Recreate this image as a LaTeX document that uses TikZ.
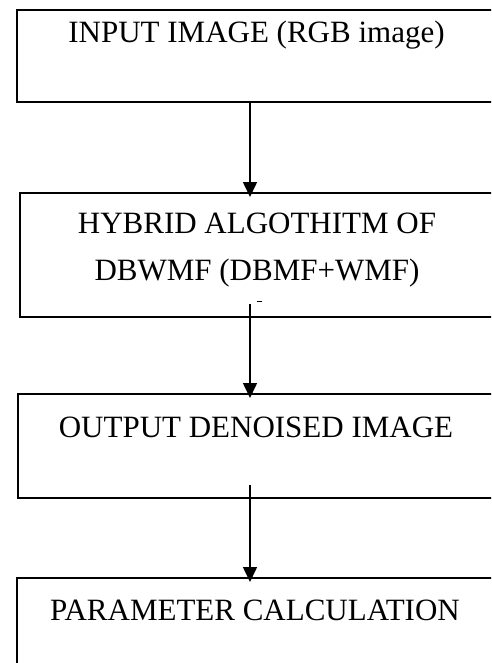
\documentclass[tikz,border=0pt]{standalone}
\usepackage{fontspec}
\setmainfont{Liberation Serif}
\usetikzlibrary{arrows.meta}

\begin{document}
\begin{tikzpicture}[x=1pt,y=-1pt,
  box/.style={draw, line width=1.6pt, rectangle, inner sep=0pt, anchor=north west},
  label/.style={font=\fontsize{31}{47}\selectfont, inner sep=0pt, anchor=base},
  flow/.style={line width=1.6pt, -{Triangle[length=15pt,width=14pt]}}
]
\useasboundingbox (0,0) rectangle (491,663);
\clip (0,0) rectangle (491,663);

% process boxes (they run past the right edge of the page)
\node[box, minimum width=524pt, minimum height=92pt]  (b1) at (16,9)   {};
\node[box, minimum width=521pt, minimum height=124pt] (b2) at (19,192) {};
\node[box, minimum width=523pt, minimum height=104pt] (b3) at (17,393) {};
\node[box, minimum width=524pt, minimum height=123pt] (b4) at (16,577) {};

% box captions
\node[label] (t1)  at (256.5,43) {INPUT IMAGE (RGB image)};
\node[label] (t2a) at (257,233)  {HYBRID ALGOTHITM OF};
\node[label] (t2b) at (257,280)  {DBWMF (DBMF+WMF)};
\node[label] (t3)  at (256,437)  {OUTPUT DENOISED IMAGE};
\node[label] (t4)  at (255,620)  {PARAMETER CALCULATION};

% vertical axis of the connectors
\coordinate (ax) at (250,0);

\draw[flow, shorten >=-5pt] (b1.south -| ax) -- (b2.north -| ax);
\draw[flow, shorten <=-14pt, shorten >=-5pt] (b2.south -| ax) -- (b3.north -| ax);
\draw[flow, shorten <=-14pt, shorten >=-5pt] (b3.south -| ax) -- (b4.north -| ax);

% small stray tick beside the second connector
\draw[line width=0.8pt] (257,301) -- (262,301);
\end{tikzpicture}
\end{document}
